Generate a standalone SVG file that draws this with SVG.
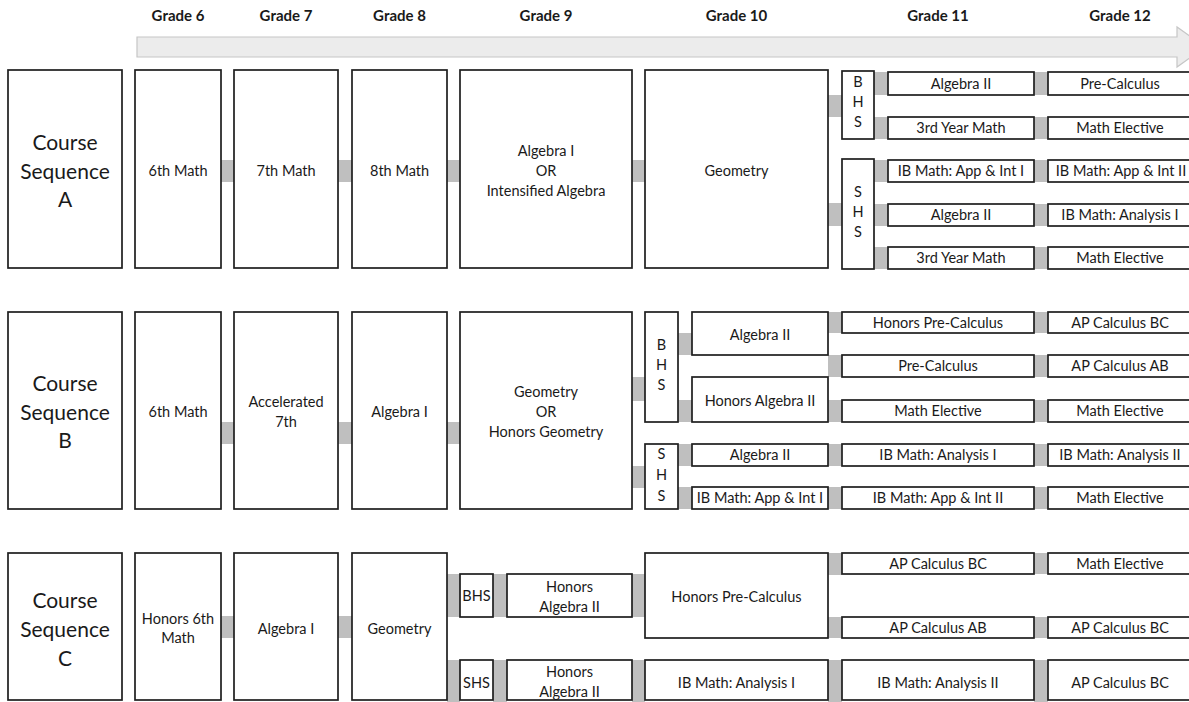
<svg xmlns="http://www.w3.org/2000/svg" width="1189" height="702" viewBox="0 0 1189 702">
<style>
.b{fill:#fff;stroke:#1e1e1e;stroke-width:1.7}
.c{fill:#bfbfbf}
text{font-family:Lato,"Liberation Sans",sans-serif;font-size:14.5px;fill:#1a1a1a;text-anchor:middle}
.h{font-weight:bold;font-size:15px}
.big{font-size:21px}
</style>
<rect width="1189" height="702" fill="#fff"/>
<g id="header">
<text class="h" x="178" y="21">Grade 6</text>
<text class="h" x="286" y="21">Grade 7</text>
<text class="h" x="399.5" y="21">Grade 8</text>
<text class="h" x="546" y="21">Grade 9</text>
<text class="h" x="736.5" y="21">Grade 10</text>
<text class="h" x="938" y="21">Grade 11</text>
<text class="h" x="1120" y="21">Grade 12</text>
<polygon points="137,37 1177,37 1177,27 1205,47 1177,67 1177,57 137,57" fill="#ececec" stroke="#c6c6c6" stroke-width="1.2"/>
</g>
<g id="connectors">
<!-- Row A -->
<rect class="c" x="221" y="160" width="13" height="22"/>
<rect class="c" x="338" y="160" width="14" height="22"/>
<rect class="c" x="447" y="160" width="13" height="22"/>
<rect class="c" x="632" y="160" width="13" height="22"/>
<rect class="c" x="828" y="95" width="14" height="22"/>
<rect class="c" x="828" y="203" width="14" height="23"/>
<rect class="c" x="874" y="72" width="14" height="23"/>
<rect class="c" x="874" y="117" width="14" height="22"/>
<rect class="c" x="874" y="160" width="14" height="22"/>
<rect class="c" x="874" y="204" width="14" height="22"/>
<rect class="c" x="874" y="247" width="14" height="22"/>
<rect class="c" x="1034" y="72" width="14" height="23"/>
<rect class="c" x="1034" y="117" width="14" height="22"/>
<rect class="c" x="1034" y="160" width="14" height="22"/>
<rect class="c" x="1034" y="204" width="14" height="22"/>
<rect class="c" x="1034" y="247" width="14" height="22"/>
<!-- Row B -->
<rect class="c" x="221" y="422" width="13" height="22"/>
<rect class="c" x="338" y="422" width="14" height="22"/>
<rect class="c" x="447" y="422" width="13" height="22"/>
<rect class="c" x="632" y="377" width="13" height="24"/>
<rect class="c" x="632" y="466" width="13" height="22"/>
<rect class="c" x="678" y="333" width="14" height="22"/>
<rect class="c" x="678" y="400" width="14" height="22"/>
<rect class="c" x="678" y="444" width="14" height="22"/>
<rect class="c" x="678" y="487" width="14" height="22"/>
<rect class="c" x="828" y="312" width="14" height="21"/>
<rect class="c" x="828" y="355" width="14" height="22"/>
<rect class="c" x="828" y="400" width="14" height="22"/>
<rect class="c" x="828" y="444" width="14" height="22"/>
<rect class="c" x="828" y="487" width="14" height="22"/>
<rect class="c" x="1034" y="312" width="14" height="21"/>
<rect class="c" x="1034" y="355" width="14" height="22"/>
<rect class="c" x="1034" y="400" width="14" height="22"/>
<rect class="c" x="1034" y="444" width="14" height="22"/>
<rect class="c" x="1034" y="487" width="14" height="22"/>
<!-- Row C -->
<rect class="c" x="221" y="616" width="13" height="22"/>
<rect class="c" x="338" y="616" width="14" height="22"/>
<rect class="c" x="447" y="574" width="13" height="43"/>
<rect class="c" x="447" y="660" width="13" height="42"/>
<rect class="c" x="493" y="574" width="14" height="43"/>
<rect class="c" x="632" y="574" width="13" height="43"/>
<rect class="c" x="493" y="660" width="14" height="42"/>
<rect class="c" x="632" y="660" width="13" height="42"/>
<rect class="c" x="828" y="553" width="14" height="22"/>
<rect class="c" x="828" y="617" width="14" height="21"/>
<rect class="c" x="828" y="660" width="14" height="42"/>
<rect class="c" x="1034" y="553" width="14" height="21"/>
<rect class="c" x="1034" y="617" width="14" height="21"/>
<rect class="c" x="1034" y="660" width="14" height="42"/>
</g>
<!-- Row A nodes -->
<g id="A_course"><rect class="b" x="8" y="70" width="114" height="198"/><text class="big" x="65" y="149.5">Course</text><text class="big" x="65" y="178.5">Sequence</text><text class="big" x="65" y="206.5">A</text></g>
<g id="A_g6"><rect class="b" x="135" y="70" width="86" height="198"/><text x="178" y="176">6th Math</text></g>
<g id="A_g7"><rect class="b" x="234" y="70" width="104" height="198"/><text x="286" y="176">7th Math</text></g>
<g id="A_g8"><rect class="b" x="352" y="70" width="95" height="198"/><text x="399.5" y="176">8th Math</text></g>
<g id="A_g9"><rect class="b" x="460" y="70" width="172" height="198"/><text x="546" y="156">Algebra I</text><text x="546" y="176">OR</text><text x="546" y="196">Intensified Algebra</text></g>
<g id="A_g10"><rect class="b" x="645" y="70" width="183" height="198"/><text x="736.5" y="176">Geometry</text></g>
<g id="A_bhs"><rect class="b" x="842" y="71" width="32" height="68"/><text x="858" y="87">B</text><text x="858" y="107">H</text><text x="858" y="127">S</text></g>
<g id="A_shs"><rect class="b" x="842" y="159" width="32" height="110"/><text x="858" y="197">S</text><text x="858" y="217">H</text><text x="858" y="237">S</text></g>
<g id="A_g11_1"><rect class="b" x="888" y="72" width="146" height="23"/><text x="961" y="88.5">Algebra II</text></g>
<g id="A_g11_2"><rect class="b" x="888" y="117" width="146" height="22"/><text x="961" y="133">3rd Year Math</text></g>
<g id="A_g11_3"><rect class="b" x="888" y="160" width="146" height="22"/><text x="961" y="176">IB Math: App &amp; Int I</text></g>
<g id="A_g11_4"><rect class="b" x="888" y="204" width="146" height="22"/><text x="961" y="220">Algebra II</text></g>
<g id="A_g11_5"><rect class="b" x="888" y="247" width="146" height="22"/><text x="961" y="263">3rd Year Math</text></g>
<g id="A_g12_1"><rect class="b" x="1048" y="72" width="150" height="23"/><text x="1120" y="88.5">Pre-Calculus</text></g>
<g id="A_g12_2"><rect class="b" x="1048" y="117" width="150" height="22"/><text x="1120" y="133">Math Elective</text></g>
<g id="A_g12_3"><rect class="b" x="1048" y="160" width="150" height="22"/><text x="1121" y="176">IB Math: App &amp; Int II</text></g>
<g id="A_g12_4"><rect class="b" x="1048" y="204" width="150" height="22"/><text x="1120" y="220">IB Math: Analysis I</text></g>
<g id="A_g12_5"><rect class="b" x="1048" y="247" width="150" height="22"/><text x="1120" y="263">Math Elective</text></g>
<!-- Row B nodes -->
<g id="B_course"><rect class="b" x="8" y="312" width="114" height="197"/><text class="big" x="65" y="390.5">Course</text><text class="big" x="65" y="419.5">Sequence</text><text class="big" x="65" y="447.5">B</text></g>
<g id="B_g6"><rect class="b" x="135" y="312" width="86" height="197"/><text x="178" y="417">6th Math</text></g>
<g id="B_g7"><rect class="b" x="234" y="312" width="104" height="197"/><text x="286" y="407">Accelerated</text><text x="286" y="427">7th</text></g>
<g id="B_g8"><rect class="b" x="352" y="312" width="95" height="197"/><text x="399.5" y="417">Algebra I</text></g>
<g id="B_g9"><rect class="b" x="460" y="312" width="172" height="197"/><text x="546" y="397">Geometry</text><text x="546" y="417">OR</text><text x="546" y="437">Honors Geometry</text></g>
<g id="B_bhs"><rect class="b" x="645" y="312" width="33" height="110"/><text x="661.5" y="350">B</text><text x="661.5" y="370">H</text><text x="661.5" y="390">S</text></g>
<g id="B_shs"><rect class="b" x="645" y="444" width="33" height="65"/><text x="661.5" y="459">S</text><text x="661.5" y="480">H</text><text x="661.5" y="501">S</text></g>
<g id="B_g10_1"><rect class="b" x="692" y="312" width="136" height="43"/><text x="760" y="340">Algebra II</text></g>
<g id="B_g10_2"><rect class="b" x="692" y="377" width="136" height="45"/><text x="760" y="406">Honors Algebra II</text></g>
<g id="B_g10_3"><rect class="b" x="692" y="444" width="136" height="22"/><text x="760" y="460">Algebra II</text></g>
<g id="B_g10_4"><rect class="b" x="692" y="487" width="136" height="22"/><text x="760" y="503">IB Math: App &amp; Int I</text></g>
<g id="B_g11_1"><rect class="b" x="842" y="312" width="192" height="21"/><text x="938" y="327.5">Honors Pre-Calculus</text></g>
<g id="B_g11_2"><rect class="b" x="842" y="355" width="192" height="22"/><text x="938" y="371">Pre-Calculus</text></g>
<g id="B_g11_3"><rect class="b" x="842" y="400" width="192" height="22"/><text x="938" y="416">Math Elective</text></g>
<g id="B_g11_4"><rect class="b" x="842" y="444" width="192" height="22"/><text x="938" y="460">IB Math: Analysis I</text></g>
<g id="B_g11_5"><rect class="b" x="842" y="487" width="192" height="22"/><text x="938" y="503">IB Math: App &amp; Int II</text></g>
<g id="B_g12_1"><rect class="b" x="1048" y="312" width="150" height="21"/><text x="1120" y="327.5">AP Calculus BC</text></g>
<g id="B_g12_2"><rect class="b" x="1048" y="355" width="150" height="22"/><text x="1120" y="371">AP Calculus AB</text></g>
<g id="B_g12_3"><rect class="b" x="1048" y="400" width="150" height="22"/><text x="1120" y="416">Math Elective</text></g>
<g id="B_g12_4"><rect class="b" x="1048" y="444" width="150" height="22"/><text x="1120" y="460">IB Math: Analysis II</text></g>
<g id="B_g12_5"><rect class="b" x="1048" y="487" width="150" height="22"/><text x="1120" y="503">Math Elective</text></g>
<!-- Row C nodes -->
<g id="C_course"><rect class="b" x="8" y="553" width="114" height="147"/><text class="big" x="65" y="607.5">Course</text><text class="big" x="65" y="636.5">Sequence</text><text class="big" x="65" y="665.5">C</text></g>
<g id="C_g6"><rect class="b" x="135" y="553" width="86" height="147"/><text x="178" y="624">Honors 6th</text><text x="178" y="643">Math</text></g>
<g id="C_g7"><rect class="b" x="234" y="553" width="104" height="147"/><text x="286" y="634">Algebra I</text></g>
<g id="C_g8"><rect class="b" x="352" y="553" width="95" height="147"/><text x="399.5" y="634">Geometry</text></g>
<g id="C_bhs"><rect class="b" x="460" y="574" width="33" height="43"/><text x="476.5" y="601">BHS</text></g>
<g id="C_ha1"><rect class="b" x="507" y="574" width="125" height="43"/><text x="569.5" y="592">Honors</text><text x="569.5" y="612">Algebra II</text></g>
<g id="C_hpc"><rect class="b" x="645" y="553" width="183" height="85"/><text x="736.5" y="602">Honors Pre-Calculus</text></g>
<g id="C_shs"><rect class="b" x="460" y="660" width="33" height="40"/><text x="476.5" y="688">SHS</text></g>
<g id="C_ha2"><rect class="b" x="507" y="660" width="125" height="40"/><text x="569.5" y="677">Honors</text><text x="569.5" y="697">Algebra II</text></g>
<g id="C_iba1"><rect class="b" x="645" y="660" width="183" height="40"/><text x="736.5" y="688">IB Math: Analysis I</text></g>
<g id="C_g11_1"><rect class="b" x="842" y="553" width="192" height="21"/><text x="938" y="568.5">AP Calculus BC</text></g>
<g id="C_g11_2"><rect class="b" x="842" y="617" width="192" height="21"/><text x="938" y="632.5">AP Calculus AB</text></g>
<g id="C_g11_3"><rect class="b" x="842" y="660" width="192" height="40"/><text x="938" y="688">IB Math: Analysis II</text></g>
<g id="C_g12_1"><rect class="b" x="1048" y="553" width="150" height="21"/><text x="1120" y="568.5">Math Elective</text></g>
<g id="C_g12_2"><rect class="b" x="1048" y="617" width="150" height="21"/><text x="1120" y="632.5">AP Calculus BC</text></g>
<g id="C_g12_3"><rect class="b" x="1048" y="660" width="150" height="40"/><text x="1120" y="688">AP Calculus BC</text></g>
</svg>
